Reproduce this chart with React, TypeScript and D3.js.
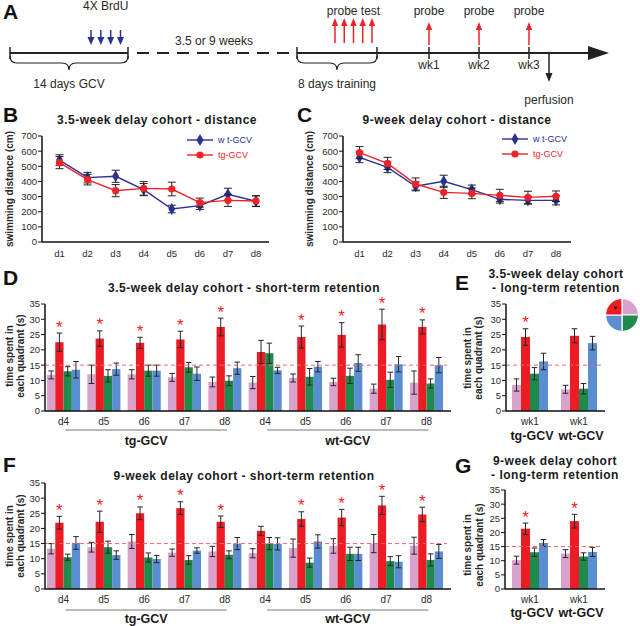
import React from 'react';
import * as d3 from 'd3';

// ---- panel B / C : swimming distance (cm) ----
const days = ['d1', 'd2', 'd3', 'd4', 'd5', 'd6', 'd7', 'd8'];
const distTicks = [0, 100, 200, 300, 400, 500, 600, 700];
const wt35 = [541, 425, 434, 346, 218, 240, 315, 269];
const wt35Err = [35, 35, 40, 40, 25, 25, 40, 35];
const tg35 = [524, 412, 339, 354, 350, 260, 275, 271];
const tg35Err = [40, 35, 40, 45, 45, 30, 40, 35];
const wt9 = [559, 493, 368, 401, 346, 282, 275, 275];
const wt9Err = [35, 35, 30, 40, 30, 25, 25, 30];
const tg9 = [590, 519, 383, 328, 321, 308, 295, 302];
const tg9Err = [40, 40, 40, 40, 35, 40, 40, 35];

// ---- panel D / F : short-term retention, time in quadrant (s) ----
const stDays = ['d4', 'd5', 'd6', 'd7', 'd8', 'd4', 'd5', 'd6', 'd7', 'd8'];
const genotypes = ['tg-GCV', 'wt-GCV'];
const quadColors = ['#d8a2cc', '#ed1c24', '#1e8a4c', '#5b8ed0'];
const timeTicks = [0, 5, 10, 15, 20, 25, 30, 35];
const chance = 15;

const dPink = [11.8, 12, 12, 11, 9.5, 9.3, 10.8, 9.5, 7.3, 9.3];
const dPinkErr = [1.3, 3, 1.5, 1.3, 1.6, 2, 1.3, 1.2, 1.5, 3.8];
const dRed = [22.5, 23.7, 22.3, 23.4, 27.5, 19.3, 24.2, 24.9, 28.3, 27.5];
const dRedErr = [3, 2.5, 1.8, 2.7, 2.9, 3.8, 3.6, 4, 5, 2.3];
const dGreen = [13, 11.5, 13.2, 14.3, 9.9, 18.9, 11.2, 11.5, 10.2, 9];
const dGreenErr = [1.5, 2, 1.8, 1.6, 1.6, 3.3, 2.7, 2.5, 2.5, 1.5];
const dBlue = [13.5, 13.7, 13.2, 12.2, 14, 13.3, 14.5, 15.7, 15.3, 15];
const dBlueErr = [2.7, 2, 1.8, 2.2, 2, 1, 1.7, 2.7, 2.5, 2.5];
const dSig = [1, 1, 1, 1, 1, 0, 1, 1, 1, 1];

const fPink = [13.3, 13.8, 15.7, 12, 12.4, 11.8, 13.5, 14.2, 15, 14.3];
const fPinkErr = [1.7, 1.6, 2.3, 1.2, 1.7, 1.5, 3, 2.4, 3, 2.8];
const fRed = [21.9, 22.2, 25, 26.7, 22.2, 19.2, 23.1, 23.6, 27.6, 24.6];
const fRedErr = [2.1, 3.5, 2.1, 2.1, 1.9, 1.5, 2.4, 2.7, 3, 2.4];
const fGreen = [10.5, 13.8, 10.4, 9.6, 11.3, 15, 8.7, 11.6, 9.2, 9.6];
const fGreenErr = [1, 2, 1.5, 1.4, 1.3, 2, 1.5, 2.2, 1.5, 2];
const fBlue = [15.2, 11.2, 9.9, 12.7, 15, 14.9, 15.7, 11.6, 9, 12.4];
const fBlueErr = [2.1, 1.4, 1.2, 0.9, 2, 2, 2.2, 2.2, 2, 2.3];
const fSig = [1, 1, 1, 1, 1, 0, 1, 1, 1, 1];

// ---- panel E / G : long-term retention (wk1), tg then wt ----
const ltDays = ['wk1', 'wk1'];
const ePink = [8.5, 7.1];
const ePinkErr = [2, 1.3];
const eRed = [24.2, 24.6];
const eRedErr = [2.7, 2.3];
const eGreen = [12.2, 7.3];
const eGreenErr = [2, 1.7];
const eBlue = [16.2, 22.2];
const eBlueErr = [2.7, 2.2];
const eSig = [1, 0];

const gPink = [10.2, 12.5];
const gPinkErr = [1.4, 1.4];
const gRed = [21.3, 24];
const gRedErr = [2, 2.4];
const gGreen = [13, 11.5];
const gGreenErr = [1.5, 1.3];
const gBlue = [16.3, 13.1];
const gBlueErr = [1.2, 1.6];
const gSig = [1, 1];

// pool quadrants for the icon: top-right, bottom-right, bottom-left, top-left
const poolQuads = [1, 1, 1, 1];
const poolColors = ['#d8a2cc', '#1e8a4c', '#5b8ed0', '#ed1c24'];

// ---- panel A timeline ----
const brduShots = ['1', '2', '3', '4'];
const probeTests = ['d4', 'd5', 'd6', 'd7', 'd8'];
const probeWeeks = ['wk1', 'wk2', 'wk3'];

const FONT = 'Liberation Sans, Arial, Helvetica, sans-serif';
const TXT = '#2a2a2a';
const BLUE = '#2b3190';
const RED = '#ee2229';

function Arrow({ x, y1, y2, color, head = 7, w = 3.5, sw = 1.5 }) {
  const dir = y2 > y1 ? 1 : -1;
  const yb = y2 - dir * head;
  return (
    <g>
      <line x1={x} x2={x} y1={y1} y2={yb} stroke={color} strokeWidth={sw} />
      <path d={`M${x - w},${yb}L${x + w},${yb}L${x},${y2}Z`} fill={color} />
    </g>
  );
}

function brace(x1, x2, y, h) {
  const m = (x1 + x2) / 2;
  const q = h / 2;
  return `M${x1},${y} Q${x1},${y + q} ${x1 + q},${y + q} L${m - q},${y + q} Q${m},${y + q} ${m},${y + h} Q${m},${y + q} ${m + q},${y + q} L${x2 - q},${y + q} Q${x2},${y + q} ${x2},${y}`;
}

function Timeline() {
  const ly = 53;
  const gcv = d3.scaleLinear().domain([0, 14]).range([10, 128]);
  const train = d3.scaleLinear().domain([0, 8]).range([297, 377]);
  const brdu = d3.scalePoint().domain(brduShots).range([91, 120.5]);
  const probe = d3.scalePoint().domain(probeTests).range([335, 372]);
  const weeks = d3.scalePoint().domain(probeWeeks).range([429, 529]);
  return (
    <g fontSize={12} fill={TXT}>
      <line x1={gcv(0)} x2={gcv(14)} y1={ly} y2={ly} stroke="#222" strokeWidth={2} />
      <line x1={gcv(0)} x2={gcv(0)} y1={ly - 6} y2={ly + 6} stroke="#222" strokeWidth={1.5} />
      <line x1={gcv(14)} x2={gcv(14)} y1={ly - 6} y2={ly + 6} stroke="#222" strokeWidth={1.5} />
      <line x1={137} x2={290} y1={ly} y2={ly} stroke="#222" strokeWidth={2} strokeDasharray="12 8" />
      <line x1={train(0)} x2={592} y1={ly} y2={ly} stroke="#222" strokeWidth={2} />
      <path d={`M588,${ly - 7}L609,${ly}L588,${ly + 7}Z`} fill="#222" />
      <line x1={train(0)} x2={train(0)} y1={ly - 6} y2={ly + 6} stroke="#222" strokeWidth={1.5} />
      <line x1={train(8)} x2={train(8)} y1={ly - 6} y2={ly + 6} stroke="#222" strokeWidth={1.5} />
      {probeWeeks.map(w => (
        <line key={w} x1={weeks(w)} x2={weeks(w)} y1={ly - 6} y2={ly + 6} stroke="#222" strokeWidth={1.5} />
      ))}
      <path d={brace(gcv(0), gcv(14), ly + 3, 14)} fill="none" stroke="#222" strokeWidth={1.2} />
      <path d={brace(train(0), train(8), ly + 3, 14)} fill="none" stroke="#222" strokeWidth={1.2} />
      <text x={gcv(7)} y={88} textAnchor="middle">14 days GCV</text>
      <text x={train(4)} y={88} textAnchor="middle">8 days training</text>
      <text x={(brdu('1') + brdu('4')) / 2} y={10} textAnchor="middle">4X BrdU</text>
      {brduShots.map(b => (
        <Arrow key={b} x={brdu(b)} y1={30} y2={45} color={BLUE} head={8} w={3.5} />
      ))}
      <text x={214} y={45} textAnchor="middle">3.5 or 9 weeks</text>
      <text x={(probe('d4') + probe('d8')) / 2} y={15} textAnchor="middle">probe test</text>
      {probeTests.map(p => (
        <Arrow key={p} x={probe(p)} y1={43} y2={18} color={RED} head={8} w={3.2} />
      ))}
      {probeWeeks.map(w => (
        <g key={w}>
          <text x={weeks(w)} y={15} textAnchor="middle">probe</text>
          <Arrow x={weeks(w)} y1={45} y2={22} color={RED} head={8} w={3.2} />
          <text x={weeks(w)} y={69} textAnchor="middle">{w}</text>
        </g>
      ))}
      <Arrow x={549} y1={ly} y2={82} color="#222" head={9} w={3.5} />
      <text x={549} y={104} textAnchor="middle">perfusion</text>
    </g>
  );
}

function LinePanel({ axisX, axisEnd, firstX, lastX, yBase, yTop, wt, wtErr, tg, tgErr, legX, legY, labelX }) {
  const x = d3.scalePoint().domain(days).range([firstX, lastX]);
  const y = d3.scaleLinear().domain([0, 700]).range([yBase, yTop]);
  const line = d3.line().x((d, i) => x(days[i])).y(d => y(d));
  const diamond = d3.symbol().type(d3.symbolDiamond).size(42)();
  const series = [
    { vals: wt, err: wtErr, color: BLUE, name: 'w t-GCV', marker: 'd' },
    { vals: tg, err: tgErr, color: RED, name: 'tg-GCV', marker: 'c' },
  ];
  return (
    <g>
      <text transform={`translate(${labelX},${(yBase + yTop) / 2}) rotate(-90)`} textAnchor="middle" fontSize={10} fontWeight="bold" fill={TXT}>
        swimming distance (cm)
      </text>
      <line x1={axisX} x2={axisX} y1={yTop} y2={yBase} stroke="#111" strokeWidth={1.5} />
      <line x1={axisX} x2={axisEnd} y1={yBase} y2={yBase} stroke="#111" strokeWidth={1.5} />
      {distTicks.map(t => (
        <g key={t}>
          <line x1={axisX - 4} x2={axisX} y1={y(t)} y2={y(t)} stroke="#111" />
          <text x={axisX - 5} y={y(t) + 3.4} textAnchor="end" fontSize={9.5} fill={TXT}>{t}</text>
        </g>
      ))}
      {days.map(d => (
        <text key={d} x={x(d)} y={yBase + 15} textAnchor="middle" fontSize={9.5} fill={TXT}>{d}</text>
      ))}
      {series.map(s => (
        <g key={s.name}>
          <path d={line(s.vals)} fill="none" stroke={s.color} strokeWidth={1.4} />
          {s.vals.map((v, i) => (
            <g key={i}>
              <line x1={x(days[i])} x2={x(days[i])} y1={y(v - s.err[i])} y2={y(v + s.err[i])} stroke="#222" />
              <line x1={x(days[i]) - 4} x2={x(days[i]) + 4} y1={y(v - s.err[i])} y2={y(v - s.err[i])} stroke="#222" />
              <line x1={x(days[i]) - 4} x2={x(days[i]) + 4} y1={y(v + s.err[i])} y2={y(v + s.err[i])} stroke="#222" />
              {s.marker === 'd'
                ? <path d={diamond} transform={`translate(${x(days[i])},${y(v)})`} fill={s.color} />
                : <circle cx={x(days[i])} cy={y(v)} r={3.6} fill={s.color} />}
            </g>
          ))}
        </g>
      ))}
      {series.map((s, k) => (
        <g key={s.name} transform={`translate(${legX},${legY + k * 15})`}>
          <line x1={0} x2={26} y1={0} y2={0} stroke={s.color} strokeWidth={1.4} />
          {s.marker === 'd'
            ? <path d={diamond} transform="translate(13,0)" fill={s.color} />
            : <circle cx={13} cy={0} r={3.6} fill={s.color} />}
          <text x={31} y={3.3} fontSize={9} fill={s.color}>{s.name}</text>
        </g>
      ))}
    </g>
  );
}

function BarPanel({ axisX, axisEnd, yBase, yTop, bandL, bandR, pIn, pOut, cats, vals, errs, sig, catY, groups, groupY, lineY, labelX, labelY }) {
  const x = d3.scaleBand().domain(d3.range(cats.length)).range([bandL, bandR]).paddingInner(pIn).paddingOuter(pOut);
  const q = d3.scaleBand().domain(d3.range(4)).range([0, x.bandwidth()]);
  const y = d3.scaleLinear().domain([0, 35]).range([yBase, yTop]);
  const cx = i => x(i) + x.bandwidth() / 2;
  return (
    <g>
      <text transform={`translate(${labelX},${labelY}) rotate(-90)`} textAnchor="middle" fontSize={10} fontWeight="bold" fill={TXT}>
        <tspan x={0} y={0}>time spent in</tspan>
        <tspan x={0} y={11.5}>each quadrant (s)</tspan>
      </text>
      {vals.map((arr, k) => arr.map((v, i) => (
        <rect key={`${k}-${i}`} x={x(i) + q(k)} y={y(v)} width={q.bandwidth()} height={yBase - y(v)} fill={quadColors[k]} />
      )))}
      {vals.map((arr, k) => arr.map((v, i) => {
        const xm = x(i) + q(k) + q.bandwidth() / 2;
        const lo = y(v - errs[k][i]);
        const hi = y(v + errs[k][i]);
        return (
          <g key={`e${k}-${i}`} stroke="#262626" strokeWidth={1}>
            <line x1={xm} x2={xm} y1={lo} y2={hi} />
            <line x1={xm - 2.8} x2={xm + 2.8} y1={lo} y2={lo} />
            <line x1={xm - 2.8} x2={xm + 2.8} y1={hi} y2={hi} />
          </g>
        );
      }))}
      {sig.map((s, i) => s ? (
        <text key={`s${i}`} x={x(i) + q(1) + q.bandwidth() / 2} y={y(vals[1][i] + errs[1][i]) - 0.5} textAnchor="middle" fontSize={17} fill={RED}>*</text>
      ) : null)}
      <line x1={axisX} x2={axisEnd - 4} y1={y(chance)} y2={y(chance)} stroke="#f0656a" strokeWidth={1} strokeDasharray="4 3" />
      <line x1={axisX} x2={axisX} y1={yTop} y2={yBase} stroke="#111" strokeWidth={1.5} />
      <line x1={axisX} x2={axisEnd} y1={yBase} y2={yBase} stroke="#111" strokeWidth={1.5} />
      {timeTicks.map(t => (
        <g key={t}>
          <line x1={axisX - 4} x2={axisX} y1={y(t)} y2={y(t)} stroke="#111" />
          <text x={axisX - 5} y={y(t) + 3.4} textAnchor="end" fontSize={9.5} fill={TXT}>{t}</text>
        </g>
      ))}
      {cats.map((c, i) => (
        <text key={`c${i}`} x={cx(i)} y={catY} textAnchor="middle" fontSize={10} fill={TXT}>{c}</text>
      ))}
      {groups.map(g => (
        <g key={g.label}>
          {lineY ? <line x1={cx(g.from) + 2} x2={cx(g.to) + 2} y1={lineY} y2={lineY} stroke="#777" strokeWidth={1} /> : null}
          <text x={(cx(g.from) + cx(g.to)) / 2 + 2} y={groupY} textAnchor="middle" fontSize={12.5} fontWeight="bold" fill="#1a1a1a">{g.label}</text>
        </g>
      ))}
    </g>
  );
}

function PoolIcon({ cx, cy, r }) {
  const arcs = d3.pie().sort(null)(poolQuads);
  const arc = d3.arc().innerRadius(0).outerRadius(r);
  return (
    <g transform={`translate(${cx},${cy})`}>
      {arcs.map((a, i) => (
        <path key={i} d={arc(a)} fill={poolColors[i]} stroke="#fff" strokeWidth={1.2} />
      ))}
      <circle cx={-r * 0.4} cy={-r * 0.45} r={1.4} fill="#111" />
    </g>
  );
}

function Title({ x, y, lines }) {
  return (
    <text x={x} y={y} textAnchor="middle" fontSize={12} fontWeight="bold" letterSpacing={0.5} fill="#1a1a1a">
      {lines.map((l, i) => <tspan key={i} x={x} dy={i ? 14 : 0}>{l}</tspan>)}
    </text>
  );
}

function Letter({ x, y, t }) {
  return <text x={x} y={y} fontSize={21} fontWeight="bold" fill="#111">{t}</text>;
}

export default function App() {
  const stGroups = [
    { label: genotypes[0], from: 0, to: 4 },
    { label: genotypes[1], from: 5, to: 9 },
  ];
  const ltGroups = [
    { label: genotypes[0], from: 0, to: 0 },
    { label: genotypes[1], from: 1, to: 1 },
  ];
  return (
    <svg width={640} height={626} style={{ position: 'absolute', left: 0, top: 0, background: '#fff' }} fontFamily={FONT}>
      <Letter x={3} y={19} t="A" />
      <Timeline />

      <Letter x={3} y={122} t="B" />
      <Title x={157} y={124} lines={['3.5-week delay cohort - distance']} />
      <LinePanel axisX={42} axisEnd={269} firstX={59.5} lastX={256} yBase={242} yTop={136}
        wt={wt35} wtErr={wt35Err} tg={tg35} tgErr={tg35Err} legX={187} legY={140} labelX={12.5} />

      <Letter x={297} y={122} t="C" />
      <Title x={457} y={124} lines={['9-week delay cohort - distance']} />
      <LinePanel axisX={343} axisEnd={571} firstX={359.5} lastX={556} yBase={242} yTop={136}
        wt={wt9} wtErr={wt9Err} tg={tg9} tgErr={tg9Err} legX={502} legY={139} labelX={312.5} />

      <Letter x={3} y={285} t="D" />
      <Title x={244} y={292} lines={['3.5-week delay cohort - short-term retention']} />
      <BarPanel axisX={45} axisEnd={451} yBase={411} yTop={304} bandL={45} bandR={445} pIn={0.18} pOut={0.05}
        cats={stDays} vals={[dPink, dRed, dGreen, dBlue]} errs={[dPinkErr, dRedErr, dGreenErr, dBlueErr]} sig={dSig}
        catY={425} groups={stGroups} groupY={445} lineY={430} labelX={12.5} labelY={356} />

      <Letter x={455} y={290} t="E" />
      <Title x={556} y={278} lines={['3.5-week delay cohort', '- long-term retention']} />
      <PoolIcon cx={622} cy={315} r={16.5} />
      <BarPanel axisX={506} axisEnd={605} yBase={411} yTop={304} bandL={506} bandR={603} pIn={0.265} pOut={0.122}
        cats={ltDays} vals={[ePink, eRed, eGreen, eBlue]} errs={[ePinkErr, eRedErr, eGreenErr, eBlueErr]} sig={eSig}
        catY={425} groups={ltGroups} groupY={440} lineY={0} labelX={470.5} labelY={358} />

      <Letter x={3} y={472} t="F" />
      <Title x={244} y={480} lines={['9-week delay cohort - short-term retention']} />
      <BarPanel axisX={45} axisEnd={451} yBase={589} yTop={483} bandL={45} bandR={445} pIn={0.18} pOut={0.05}
        cats={stDays} vals={[fPink, fRed, fGreen, fBlue]} errs={[fPinkErr, fRedErr, fGreenErr, fBlueErr]} sig={fSig}
        catY={603} groups={stGroups} groupY={623} lineY={610} labelX={12.5} labelY={536} />

      <Letter x={455} y={473} t="G" />
      <Title x={555} y={465} lines={['9-week delay cohort', '- long-term retention']} />
      <BarPanel axisX={505} axisEnd={605} yBase={589} yTop={490} bandL={506} bandR={603} pIn={0.265} pOut={0.122}
        cats={ltDays} vals={[gPink, gRed, gGreen, gBlue]} errs={[gPinkErr, gRedErr, gGreenErr, gBlueErr]} sig={gSig}
        catY={603} groups={ltGroups} groupY={617} lineY={0} labelX={471} labelY={545} />
    </svg>
  );
}
